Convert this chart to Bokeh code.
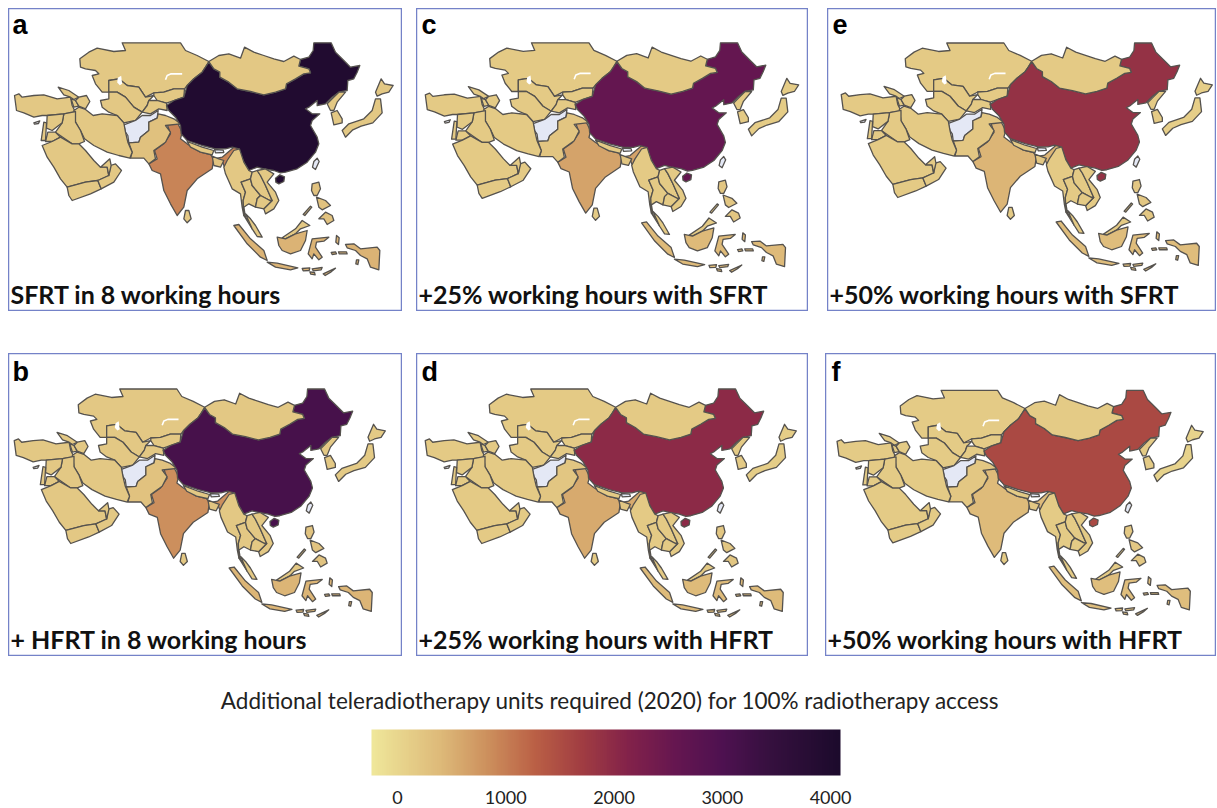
import numpy as np
from bokeh.plotting import figure
from bokeh.layouts import column, row
from bokeh.core.properties import value as bk_value
from bokeh.models import ColumnDataSource, LinearColorMapper, Label, ColorBar, FixedTicker, Range1d
from bokeh.embed import file_html
from bokeh.resources import INLINE

# ---- outlines (map units, y downward), grouped by crop
WEST = {  # offset 30,105
 "Kazakhstan": [(208,70),(235,50),(260,38),(310,48),(345,45),(335,22),(510,22),(525,45),(560,60),(595,78),(585,95),(575,110),(550,130),(530,150),(522,160),(490,160),(460,170),(430,172),(405,185),(385,155),(350,150),(325,130),(295,135),(295,170),(275,170),(255,145),(245,120),(265,115),(255,105),(225,100),(210,95)],
 "Uzbekistan": [(295,170),(295,135),(325,130),(350,150),(385,155),(405,185),(430,180),(415,195),(410,210),(395,230),(370,215),(345,185),(320,170)],
 "Turkmenistan": [(270,195),(295,190),(295,170),(320,170),(345,185),(370,215),(395,230),(375,255),(340,262),(320,240),(295,230),(275,215)],
 "Kyrgyzstan": [(430,180),(430,172),(460,170),(490,160),(522,160),(520,185),(490,195),(468,203),(440,195)],
 "Tajikistan": [(410,210),(415,195),(440,195),(468,203),(470,225),(445,220),(420,235),(395,230)],
 "Afghanistan": [(340,268),(375,255),(395,240),(420,240),(443,225),(440,248),(415,260),(415,285),(390,305),(385,320),(355,322),(352,300),(345,290)],
 "Pakistan": [(443,235),(465,240),(490,250),(510,265),(465,270),(480,290),(465,320),(430,345),(435,370),(415,385),(400,368),(360,368),(365,350),(355,322),(385,320),(390,305),(415,285),(415,260),(440,248)],
 "Turkey": [(12,180),(25,175),(35,185),(70,180),(100,178),(140,190),(180,185),(185,210),(195,230),(160,235),(110,240),(95,240),(70,245),(40,232),(18,225)],
 "Georgia": [(143,155),(175,165),(205,185),(190,192),(180,185),(160,178)],
 "Armenia": [(182,190),(195,195),(205,212),(190,215)],
 "Azerbaijan": [(205,185),(228,180),(238,198),(225,220),(205,212),(195,195)],
 "Iran": [(190,225),(205,215),(225,222),(248,240),(275,235),(320,240),(340,262),(345,290),(352,320),(365,350),(358,368),(325,360),(290,350),(250,330),(222,310),(210,285),(195,260)],
 "Iraq": [(160,235),(195,228),(195,260),(210,285),(222,318),(205,325),(185,325),(135,290),(155,262)],
 "Syria": [(110,240),(160,235),(155,262),(125,285),(108,278)],
 "Jordan": [(112,290),(135,290),(150,305),(125,318),(105,318)],
 "Israel": [(100,260),(108,262),(105,315),(92,315)],
 "Cyprus": [(70,262),(88,256),(84,264),(72,266)],
 "Saudi Arabia": [(95,330),(125,318),(150,305),(185,325),(205,325),(225,345),(250,375),(270,395),(290,395),(295,420),(262,435),(225,440),(170,455),(150,430),(130,395),(110,365)],
 "Yemen": [(170,455),(225,440),(262,435),(272,460),(240,475),(185,495),(175,480)],
 "Oman": [(262,435),(295,420),(300,390),(315,385),(333,405),(310,440),(272,460)],
 "UAE": [(270,395),(298,370),(302,390),(295,420),(290,395)],
}
EAST = {  # offset 480,105
 "China": [(18,210),(40,195),(70,185),(80,150),(100,130),(125,110),(135,95),(145,80),(160,100),(178,110),(178,125),(205,140),(230,160),(270,168),(310,178),(345,170),(375,160),(378,145),(405,130),(430,115),(450,112),(445,100),(415,92),(420,72),(445,65),(458,45),(460,22),(512,22),(525,50),(550,75),(570,95),(598,90),(590,110),(580,130),(562,135),(560,165),(535,170),(515,185),(495,205),(470,210),(470,195),(445,215),(435,220),(455,235),(478,235),(455,255),(450,270),(470,305),(475,325),(465,350),(440,380),(410,400),(375,410),(360,412),(340,405),(310,400),(290,395),(265,405),(250,380),(240,355),(235,340),(215,335),(195,340),(165,340),(125,330),(80,315),(62,295),(60,270),(45,245),(25,225)],
 "Hainan": [(345,428),(358,418),(372,424),(370,438),(355,445),(346,440)],
 "Taiwan": [(470,368),(476,378),(465,402),(456,395),(460,378)],
 "Mongolia": [(145,78),(175,60),(205,55),(240,68),(252,35),(280,50),(310,60),(340,70),(370,78),(400,62),(420,72),(415,92),(445,100),(450,112),(430,115),(405,130),(378,145),(375,160),(345,170),(310,178),(270,168),(230,160),(205,140),(178,125),(178,110),(160,100)],
 "Nepal": [(80,318),(125,335),(160,345),(155,358),(120,350),(90,335)],
 "Bhutan": [(162,342),(188,344),(190,351),(165,352)],
 "Bangladesh": [(155,362),(175,370),(190,375),(180,395),(160,390)],
 "Sri Lanka": [(75,525),(85,525),(92,550),(80,562),(70,550)],
 "North Korea": [(500,205),(515,190),(535,170),(555,170),(530,200),(520,225),(510,225)],
 "South Korea": [(512,232),(530,225),(545,250),(545,262),(520,268)],
 "Honshu": [(545,285),(565,265),(610,250),(635,225),(645,190),(660,190),(665,232),(637,262),(602,272),(577,283),(555,305)],
 "Hokkaido": [(645,170),(662,130),(672,145),(698,150),(685,170),(665,175),(650,182)],
}
SOUTH = {  # offset 630,450
 "Myanmar": [(87,-5),(100,35),(115,60),(125,65),(120,85),(92,95),(105,125),(98,150),(100,195),(95,170),(90,130),(65,115),(45,70),(40,50),(50,30),(70,0)],
 "Thailand": [(92,95),(120,85),(125,105),(150,135),(140,145),(135,170),(115,160),(100,170),(105,200),(130,225),(125,235),(100,195),(98,150),(105,125)],
 "Laos": [(120,85),(125,65),(140,60),(150,75),(165,105),(185,150),(178,150),(150,135),(125,105)],
 "Vietnam": [(140,60),(165,55),(190,70),(170,95),(195,125),(205,150),(190,175),(165,190),(160,175),(185,150),(165,105),(150,75)],
 "Cambodia": [(140,145),(150,135),(178,150),(185,150),(160,175),(135,170)],
 "Malaya": [(105,190),(120,205),(135,225),(155,260),(140,258),(125,235)],
 "Sabah": [(215,262),(255,235),(275,210),(298,225),(270,235),(255,250),(225,265)],
 "Sumatra": [(70,225),(85,222),(120,265),(160,300),(170,330),(150,320),(110,280)],
 "Java": [(170,335),(200,338),(262,352),(240,358),(195,350)],
 "Kalimantan": [(200,260),(225,265),(255,250),(290,240),(285,270),(270,300),(240,310),(215,300),(205,285)],
 "Sulawesi": [(305,265),(355,260),(340,272),(318,275),(315,290),(335,320),(325,328),(310,310),(305,325),(293,310)],
 "Halmahera": [(378,255),(386,262),(384,282),(376,275)],
 "Papua": [(405,282),(430,280),(450,295),(500,290),(508,300),(505,358),(480,350),(470,325),(450,315),(435,300),(410,292)],
 "Seram": [(362,306),(375,304),(378,310),(365,312)],
 "Buru": [(384,304),(408,304),(410,310),(386,310)],
 "Aru": [(438,328),(445,328),(442,342),(436,340)],
 "Bali": [(275,354),(298,352),(296,360),(278,361)],
 "Flores": [(305,355),(335,351),(332,358),(308,361)],
 "Sumba": [(298,364),(312,366),(314,373),(301,371)],
 "Timor": [(338,370),(375,353),(362,364),(344,375)],
 "Palawan": [(278,192),(300,167),(304,170),(283,195)],
 "Luzon": [(305,100),(325,95),(330,115),(320,135),(310,135),(303,120)],
 "Visayas": [(318,140),(345,150),(360,165),(335,178),(325,170)],
 "Mindanao": [(325,205),(345,185),(365,195),(370,210),(350,222),(340,205)],
}
OFFSETS = [(WEST, 30, 105), (EAST, 480, 105), (SOUTH, 630, 450)]
OWNER = {"Hainan": "China", "Honshu": "Japan", "Hokkaido": "Japan", "Malaya": "Malaysia", "Sabah": "Malaysia",
         "Sumatra": "Indonesia", "Java": "Indonesia", "Kalimantan": "Indonesia", "Sulawesi": "Indonesia", "Halmahera": "Indonesia",
         "Papua": "Indonesia", "Seram": "Indonesia", "Buru": "Indonesia", "Aru": "Indonesia", "Bali": "Indonesia", "Flores": "Indonesia",
         "Sumba": "Indonesia", "Timor": "Indonesia", "Palawan": "Philippines", "Luzon": "Philippines", "Visayas": "Philippines", "Mindanao": "Philippines"}
BALKHASH = ([495, 500, 512, 545], [238, 225, 220, 220])
ARAL = ([352, 362, 365, 358, 350], [232, 226, 250, 254, 246])

# ---- values per panel (estimated from the colours)
NAN = float("nan")
PANELS = ["a", "c", "e", "b", "d", "f"]
CHINA = dict(a=3950, b=3140, c=2600, d=2010, e=1880, f=1540)
INDIA = dict(a=930, b=840, c=630, d=560, e=450, f=370)
INDONESIA = dict(a=470, b=440, c=400, d=380, e=350, f=330)
PAKISTAN = dict(a=300, b=280, c=240, d=230, e=210, f=200)
PHILIPPINES = dict(a=280, b=260, c=230, d=220, e=200, f=190)
BANGLADESH = dict(a=260, b=250, c=230, d=220, e=200, f=190)
JAPAN = dict(a=190, b=170, c=140, d=130, e=110, f=40)
OTHERS = dict(a=190, b=185, c=180, d=175, e=170, f=165)
BY_COUNTRY = {"China": CHINA, "India": INDIA, "Indonesia": INDONESIA, "Pakistan": PAKISTAN,
              "Philippines": PHILIPPINES, "Bangladesh": BANGLADESH, "Japan": JAPAN}
NO_DATA = ["Afghanistan", "Bhutan", "Taiwan", "Cyprus"]

INDIA_OUTLINE = [(500,372),(530,365),(545,395),(540,415),(560,430),(600,455),(630,462),(640,475),(665,470),(700,440),(720,435),(712,455),(690,475),(672,500),(665,480),(640,472),(635,505),(590,535),(560,570),(550,620),(530,645),(510,610),(490,570),(480,520),(455,510),(445,490),(470,475),(462,450),(490,430),(510,400)]

# panel captions and frames
LETTERS = dict(a="a", b="b", c="c", d="d", e="e", f="f")
CAPTIONS = dict(a="SFRT in 8 working hours", b="+ HFRT in 8 working hours",
                c="+25% working hours with SFRT", d="+25% working hours with HFRT",
                e="+50% working hours with SFRT", f="+50% working hours with HFRT")
# left, top, width, height, x origin, y origin, scale
FRAMES = dict(a=(8, 8, 394, 303, 0, 0, 1.0), c=(416, 8, 392, 303, 411, 0.6, 0.986), e=(827, 8, 389, 303, 827, 1, 0.98),
              b=(8, 353, 394, 303, 0, 347, 0.98), d=(416, 353, 392, 303, 411, 347, 0.98), f=(825, 353, 391, 303, 823, 349, 0.967))
# letter position inside the panel, px
LETTER_POS = dict(a=(4, 16), c=(5, 16), e=(5, 16), b=(4, 18), d=(5, 18), f=(6, 18))

TICKS = [0, 1000, 2000, 3000, 4000]
BAR_LOW, BAR_HIGH = -240, 4092
STOP_POS = [0, .15, .25, .35, .45, .55, .65, .75, .85, 1]
STOP_RGB = ["#EFE79A", "#DDB878", "#CC8E5C", "#BA5F45", "#A03C42", "#82224A", "#651650", "#4E1150", "#36103F", "#1C0A2C"]

def rgb(h):
    return [int(h[i:i+2], 16) for i in (1, 3, 5)]
arr = np.array([rgb(h) for h in STOP_RGB], float)
t = np.linspace(0, 1, 256)
palette = ["#%02x%02x%02x" % tuple(int(round(np.interp(v, STOP_POS, arr[:, k]))) for k in range(3)) for v in t]
mapper = LinearColorMapper(palette=palette, low=BAR_LOW, high=BAR_HIGH, nan_color="#E4E8F5")

shapes = [("India", INDIA_OUTLINE)]
for group, dx, dy in OFFSETS:
    for name, pts in group.items():
        shapes.append((OWNER.get(name, name), [(x + dx, y + dy) for x, y in pts]))

def value(country, panel):
    if country in NO_DATA:
        return NAN
    return BY_COUNTRY.get(country, OTHERS)[panel]

def panel(k, margin):
    L, T, W, H, ox, oy, s = FRAMES[k]
    p = figure(width=W, height=H, output_backend="svg", toolbar_location=None, min_border=0,
               x_axis_type=None, y_axis_type=None, margin=margin,
               x_range=Range1d((L - ox) * 3 / s, (L + W - ox) * 3 / s),
               y_range=Range1d((T + H - oy) * 3 / s, (T - oy) * 3 / s))
    p.grid.visible = False
    p.outline_line_color = "#7482C8"
    p.outline_line_width = 1.5
    src = ColumnDataSource(dict(xs=[[q[0] for q in pts] for _, pts in shapes],
                                ys=[[q[1] for q in pts] for _, pts in shapes],
                                country=[c for c, _ in shapes],
                                value=[value(c, k) for c, _ in shapes]))
    p.patches("xs", "ys", source=src, fill_color={"field": "value", "transform": mapper},
              line_color="#55524E", line_width=1.3, line_join="round")
    p.line(*BALKHASH, line_color="white", line_width=1.6)
    p.patch(*ARAL, fill_color="white", line_color=None)
    lx, ly = LETTER_POS[k]
    p.text(x=[(L + lx - ox) * 3 / s], y=[(T + ly - oy) * 3 / s], text=[LETTERS[k]], text_font=bk_value("Liberation Sans"),
           text_font_style="bold", text_font_size="27px", text_color="black", text_baseline="middle", text_align="left")
    p.add_layout(Label(x=2, y=3, x_units="screen", y_units="screen", text=CAPTIONS[k], text_font="Lato",
                       text_font_style="bold", text_font_size="25px", text_color="#111111"))
    return p

top = row(panel("a", (0, 0, 0, 0)), panel("c", (0, 0, 0, 14)), panel("e", (0, 0, 0, 19)))
mid = row(panel("b", (42, 0, 0, 0)), panel("d", (42, 0, 0, 14)), panel("f", (42, 0, 0, 17)))

cbf = figure(width=1201, height=146, output_backend="svg", toolbar_location=None, min_border=0,
             x_axis_type=None, y_axis_type=None, x_range=Range1d(0, 1), y_range=Range1d(0, 1), margin=(4, 0, 0, 0))
cbf.grid.visible = False
cbf.outline_line_color = None
cbf.add_layout(Label(x=602, y=93, x_units="screen", y_units="screen", text_align="center",
                     text="Additional teleradiotherapy units required (2020) for 100% radiotherapy access",
                     text_font="Lato", text_font_size="22.5px", text_color="#222222"))
cb = ColorBar(color_mapper=mapper, orientation="horizontal", location=(363, 0), width=469, height=46,
              ticker=FixedTicker(ticks=TICKS), major_label_text_font="Lato", major_label_text_font_size="18px",
              major_label_text_color="#222222", major_tick_line_color=None, minor_tick_line_color=None,
              bar_line_color=None, border_line_color=None, background_fill_color=None, label_standoff=15, padding=0)
cbf.add_layout(cb, "center")

page = column(top, mid, cbf, spacing=0, margin=(8, 0, 0, 8))
open("out.html", "w").write(file_html(page, INLINE))
